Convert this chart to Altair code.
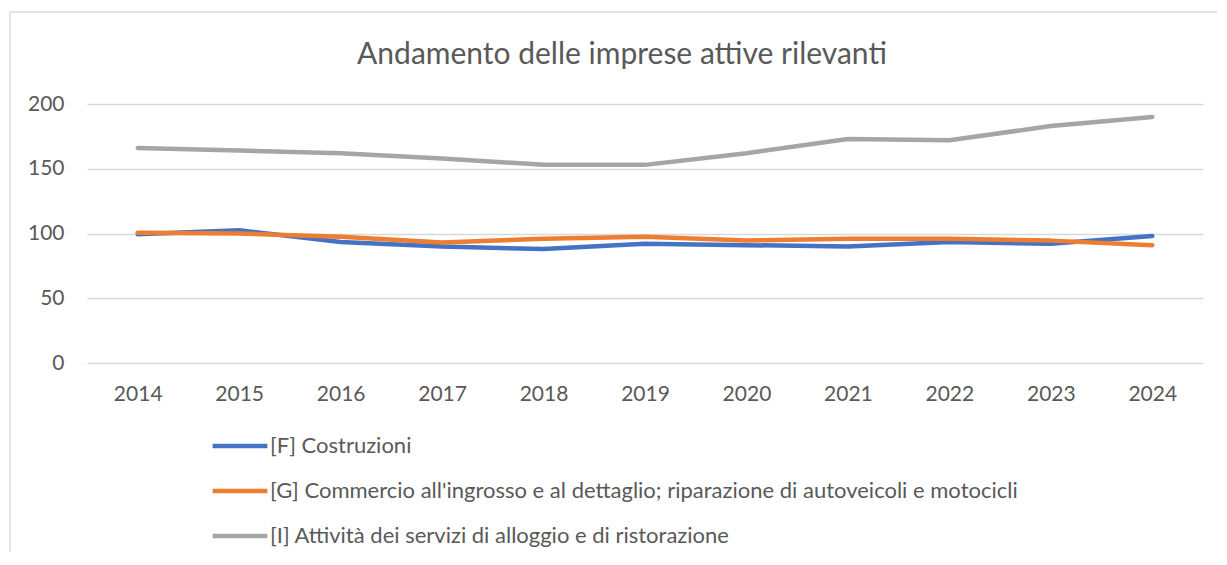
import altair as alt
import pandas as pd

years = [str(y) for y in range(2014, 2025)]
series_names = [
    "[F] Costruzioni",
    "[G] Commercio all'ingrosso e al dettaglio; riparazione di autoveicoli e motocicli",
    "[I] Attività dei servizi di alloggio e di ristorazione",
]
costruzioni = [99.5, 102.5, 93.5, 90, 88, 92, 91, 90, 93.5, 92, 98]
commercio = [100.5, 100, 97.5, 93, 96, 97.5, 94.5, 96, 96, 94.5, 91]
alloggio = [166, 164, 162, 158, 153, 153, 162, 173, 172, 183, 190]
colors = ["#4472C4", "#ED7D31", "#A5A5A5"]
y_ticks = [0, 50, 100, 150, 200]
title_text = "Andamento delle imprese attive rilevanti"

rows = []
for name, vals in zip(series_names, [costruzioni, commercio, alloggio]):
    for yr, v in zip(years, vals):
        rows.append({"year": yr, "value": v, "series": name})
df = pd.DataFrame(rows)

FONT = "Lato"
TXT = "#595959"

lines = alt.Chart(df).mark_line(
    strokeWidth=4.5, strokeCap="round", strokeJoin="round"
).encode(
    x=alt.X(
        "year:N",
        sort=years,
        scale=alt.Scale(type="point", padding=0.5),
        axis=alt.Axis(
            title=None, labelAngle=0, domain=False, ticks=False, grid=False,
            labelPadding=20, labelFontSize=21, labelColor=TXT, labelFont=FONT,
        ),
    ),
    y=alt.Y(
        "value:Q",
        scale=alt.Scale(domain=[0, 200], nice=False),
        axis=alt.Axis(
            title=None, values=y_ticks, domain=False, ticks=False,
            gridColor="#D9D9D9", gridWidth=1.3,
            labelPadding=23, labelFontSize=21, labelColor=TXT, labelFont=FONT,
        ),
    ),
    color=alt.Color(
        "series:N",
        sort=series_names,
        scale=alt.Scale(domain=series_names, range=colors),
        legend=alt.Legend(
            title=None, orient="none", legendX=123, legendY=312,
            direction="vertical", symbolType="stroke", symbolStrokeWidth=4.5,
            symbolSize=3000, labelFontSize=22, labelColor=TXT, labelFont=FONT,
            labelOffset=0, rowPadding=4, labelLimit=1200,
        ),
    ),
)

frame_df = pd.DataFrame({"b": [0]})
top_edge = alt.Chart(frame_df).mark_rule(stroke="#D9D9D9", strokeWidth=1.3).encode(
    x=alt.value(-77), x2=alt.value(1130), y=alt.value(-92)
)
left_edge = alt.Chart(frame_df).mark_rule(stroke="#D9D9D9", strokeWidth=1.3).encode(
    x=alt.value(-77), y=alt.value(-92), y2=alt.value(448)
)

chart = alt.layer(top_edge, left_edge, lines).properties(
    width=1116,
    height=259,
    padding={"left": 1, "top": 3, "right": 0, "bottom": 0},
    title=alt.TitleParams(
        text=title_text, font=FONT, fontSize=30, fontWeight="normal",
        color=TXT, anchor="middle", dx=-23, offset=-59,
    ),
).configure_view(stroke=None)

chart.save("out.html", embed_options={"renderer": "svg", "actions": False})
